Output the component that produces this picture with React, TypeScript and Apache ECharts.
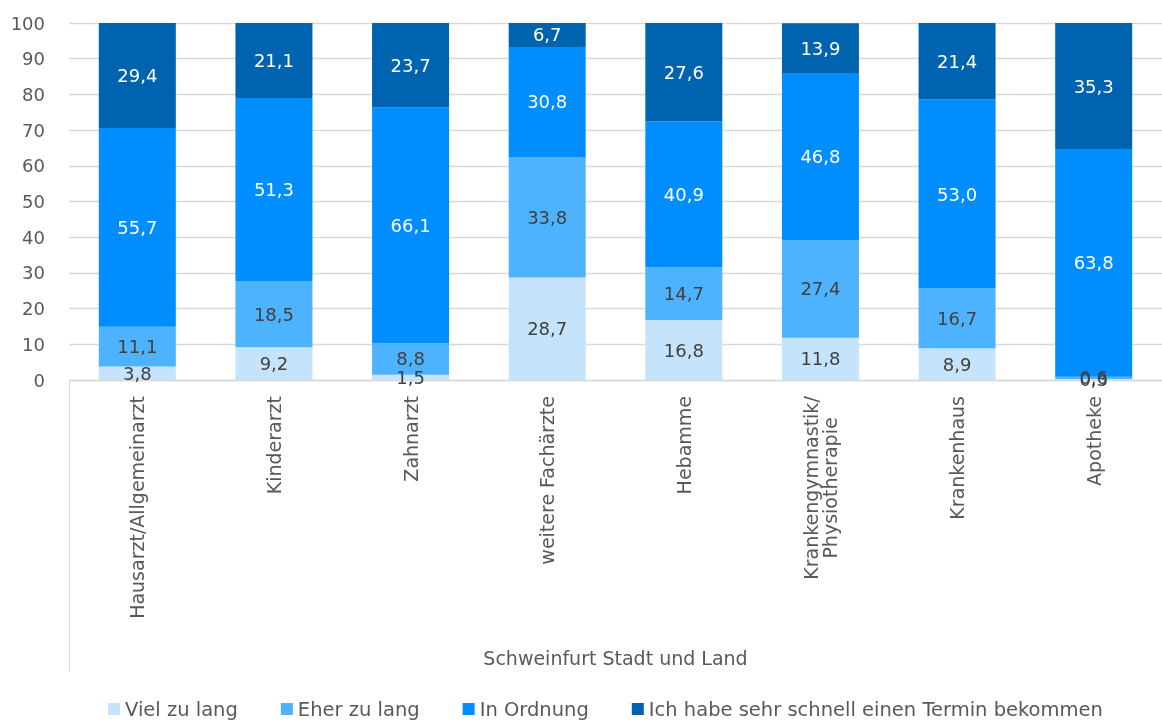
import React, { useEffect, useRef } from "react";
import * as echarts from "echarts";

const categories = [
  "Hausarzt/Allgemeinarzt",
  "Kinderarzt",
  "Zahnarzt",
  "weitere Fachärzte",
  "Hebamme",
  "Krankengymnastik/\nPhysiotherapie",
  "Krankenhaus",
  "Apotheke",
];
const seriesNames = [
  "Viel zu lang",
  "Eher zu lang",
  "In Ordnung",
  "Ich habe sehr schnell einen Termin bekommen",
];
const vielZuLang = [3.8, 9.2, 1.5, 28.7, 16.8, 11.8, 8.9, 0.3];
const eherZuLang = [11.1, 18.5, 8.8, 33.8, 14.7, 27.4, 16.7, 0.6];
const inOrdnung = [55.7, 51.3, 66.1, 30.8, 40.9, 46.8, 53.0, 63.8];
const schnellTermin = [29.4, 21.1, 23.7, 6.7, 27.6, 13.9, 21.4, 35.3];
const groupLabel = "Schweinfurt Stadt und Land";
const yTicks = { min: 0, max: 100, interval: 10 };

const colors = ["#C5E4FB", "#4EB3FF", "#008EFF", "#0063B0"];
const labelColors = ["#404040", "#404040", "#FFFFFF", "#FFFFFF"];
const FONT = "DejaVu Sans";
const CAT_SIZE = 19;

let measureCtx: CanvasRenderingContext2D | null = null;
function measure(text: string): number {
  if (!measureCtx) {
    const c = document.createElement("canvas");
    measureCtx = c.getContext("2d");
  }
  if (!measureCtx) return text.length * CAT_SIZE * 0.6;
  measureCtx.font = `${CAT_SIZE}px "${FONT}"`;
  return measureCtx.measureText(text).width;
}

// Multi-line rotated labels: centre the lines against each other,
// and shift the block so its far end still sits next to the axis.
function categoryItems() {
  return categories.map((c) => {
    const lines = c.split("\n");
    if (lines.length < 2) return c;
    const maxW = Math.max(...lines.map(measure));
    return {
      value: c,
      textStyle: { align: "center", padding: [0, Math.round(maxW), 0, 0] },
    };
  });
}

export default function App() {
  const ref = useRef<HTMLDivElement>(null);
  useEffect(() => {
    if (!ref.current) return;
    const chart = echarts.init(ref.current, undefined, { renderer: "svg" });
    const datasets = [vielZuLang, eherZuLang, inOrdnung, schnellTermin];
    chart.setOption({
      animation: false,
      textStyle: { fontFamily: FONT },
      grid: { left: 69, right: -8, top: 23, bottom: 342, containLabel: false },
      legend: {
        data: seriesNames,
        left: 103,
        top: 694,
        icon: "rect",
        itemWidth: 12,
        itemHeight: 12,
        itemGap: 43,
        textStyle: { fontFamily: FONT, fontSize: 19.5, color: "#595959" },
      },
      xAxis: {
        type: "category",
        data: categoryItems(),
        axisLine: { show: true, lineStyle: { color: "#D9D9D9", width: 1.3 } },
        axisTick: { show: false },
        axisLabel: {
          rotate: 90,
          margin: 16,
          interval: 0,
          fontFamily: FONT,
          fontSize: CAT_SIZE,
          color: "#595959",
        },
        name: groupLabel,
        nameLocation: "middle",
        nameGap: 268,
        nameTextStyle: { fontFamily: FONT, fontSize: 19, color: "#595959" },
      },
      yAxis: {
        type: "value",
        min: yTicks.min,
        max: yTicks.max,
        interval: yTicks.interval,
        axisLine: { show: false },
        axisTick: { show: false },
        axisLabel: {
          margin: 24,
          fontFamily: FONT,
          fontSize: 18,
          color: "#595959",
        },
        splitLine: { lineStyle: { color: "#D9D9D9", width: 1.3 } },
      },
      graphic: [
        {
          type: "line",
          shape: { x1: 69.5, y1: 380, x2: 69.5, y2: 672 },
          style: { stroke: "#D9D9D9", lineWidth: 1.3 },
          silent: true,
        },
      ],
      series: datasets.map((d, i) => ({
        name: seriesNames[i],
        type: "bar",
        stack: "total",
        data: d,
        barWidth: 77,
        itemStyle: { color: colors[i] },
        label: {
          show: true,
          position: "inside",
          fontFamily: FONT,
          fontSize: 18,
          color: labelColors[i],
          formatter: (p: any) => Number(p.value).toFixed(1).replace(".", ","),
        },
      })),
    });
    return () => chart.dispose();
  }, []);
  return (
    <div
      ref={ref}
      style={{ position: "fixed", left: 0, top: 0, width: 1162, height: 722 }}
    />
  );
}
